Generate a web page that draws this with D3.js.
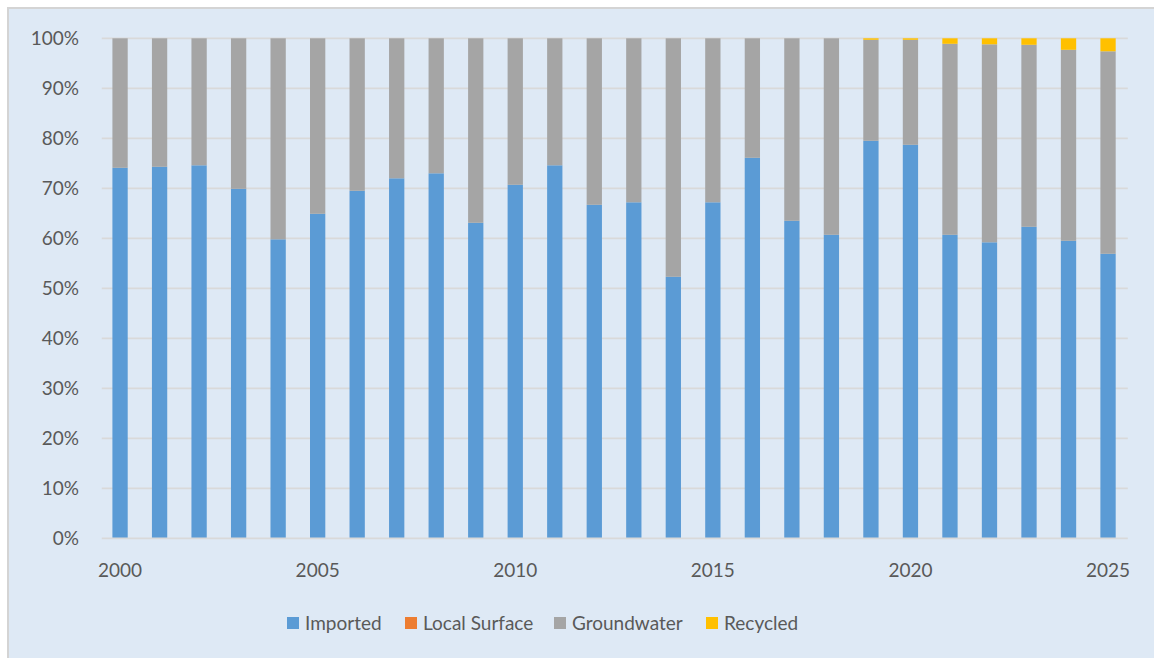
<!DOCTYPE html>
<html>
<head>
<meta charset="utf-8">
<script src="https://cdn.jsdelivr.net/npm/d3@7"></script>
<style>
  html, body { margin: 0; padding: 0; background: #ffffff; }
  svg { display: block; }
  text { font-family: Lato, "Open Sans", sans-serif; fill: #595959; }
</style>
</head>
<body>
<script>
// Water supply mix by source, share of total (%)
const years = d3.range(2000, 2026).map(String);
const imported = [74.1, 74.3, 74.6, 69.9, 59.8, 64.9, 69.5, 72.0, 73.0, 63.1,
                  70.7, 74.6, 66.7, 67.2, 52.3, 67.2, 76.1, 63.5, 60.7, 79.5,
                  78.7, 60.7, 59.2, 62.3, 59.5, 56.9];
const localSurface = new Array(26).fill(0);
const recycled = [0, 0, 0, 0, 0, 0, 0, 0, 0, 0,
                  0, 0, 0, 0, 0, 0, 0, 0, 0, 0.3,
                  0.3, 1.1, 1.2, 1.3, 2.3, 2.6];
const groundwater = years.map((_, i) => +(100 - imported[i] - localSurface[i] - recycled[i]).toFixed(2));
const yTicks = [0, 10, 20, 30, 40, 50, 60, 70, 80, 90, 100];
const xLabelYears = ["2000", "2005", "2010", "2015", "2020", "2025"];

const seriesNames = ["Imported", "Local Surface", "Groundwater", "Recycled"];
const seriesColors = ["#5b9bd5", "#ed7d31", "#a5a5a5", "#ffc000"];

const W = 1154, H = 658;
const plot = { left: 100.3, right: 1127.8, top: 38.3, bottom: 538.3 };

const rows = years.map((y, i) => ({
  year: y,
  "Imported": imported[i],
  "Local Surface": localSurface[i],
  "Groundwater": groundwater[i],
  "Recycled": recycled[i]
}));

const svg = d3.select("body").append("svg").attr("width", W).attr("height", H);

// chart area with its frame
svg.append("rect").attr("x", 8).attr("y", 8).attr("width", W).attr("height", H)
  .attr("fill", "#dee9f5").attr("stroke", "#d4d4d4").attr("stroke-width", 2);

const x = d3.scaleBand().domain(years).range([plot.left, plot.right])
  .paddingInner(0.613).paddingOuter(0.3065);
const y = d3.scaleLinear().domain([0, 100]).range([plot.bottom, plot.top]);

// horizontal gridlines
svg.append("g").selectAll("line").data(yTicks.filter(t => t > 0)).join("line")
  .attr("x1", plot.left + 1.5).attr("x2", plot.right)
  .attr("y1", d => y(d)).attr("y2", d => y(d))
  .attr("stroke", "#d9d9d9").attr("stroke-width", 1.8);

// stacked bars
const stack = d3.stack().keys(seriesNames)(rows);
svg.append("g").selectAll("g").data(stack).join("g")
  .attr("fill", (d, i) => seriesColors[i])
  .selectAll("rect").data(d => d).join("rect")
  .attr("x", d => x(d.data.year))
  .attr("width", x.bandwidth())
  .attr("y", d => y(d[1]))
  .attr("height", d => Math.max(0, y(d[0]) - y(d[1])));

// baseline
svg.append("line").attr("x1", plot.left + 1.5).attr("x2", plot.right)
  .attr("y1", y(0)).attr("y2", y(0))
  .attr("stroke", "#d9d9d9").attr("stroke-width", 1.8);

// y axis labels
const yAxis = d3.axisLeft(y).tickValues(yTicks).tickFormat(d => d + "%").tickSize(0).tickPadding(0);
const yg = svg.append("g").attr("transform", `translate(79,0)`).call(yAxis);
yg.select(".domain").remove();
yg.selectAll("text").attr("font-size", 19).attr("font-family", "Lato, sans-serif")
  .attr("fill", "#595959").attr("dy", "0.34em");

// x axis labels (every fifth year)
const xAxis = d3.axisBottom(x).tickValues(xLabelYears).tickSize(0).tickPadding(0);
const xg = svg.append("g").attr("transform", `translate(0,${y(0) + 32})`).call(xAxis);
xg.select(".domain").remove();
xg.selectAll("text").attr("font-size", 19).attr("font-family", "Lato, sans-serif")
  .attr("fill", "#595959").attr("dy", "0.34em");

// legend
const legendX = [287, 405, 554, 706];
const lg = svg.append("g").attr("transform", "translate(0,623)");
const items = lg.selectAll("g").data(seriesNames).join("g")
  .attr("transform", (d, i) => `translate(${legendX[i]},0)`);
items.append("rect").attr("x", 0).attr("y", -6).attr("width", 12).attr("height", 12)
  .attr("fill", (d, i) => seriesColors[i]);
items.append("text").attr("x", 18).attr("dy", "0.35em").attr("font-size", 19)
  .text(d => d);
</script>
</body>
</html>
